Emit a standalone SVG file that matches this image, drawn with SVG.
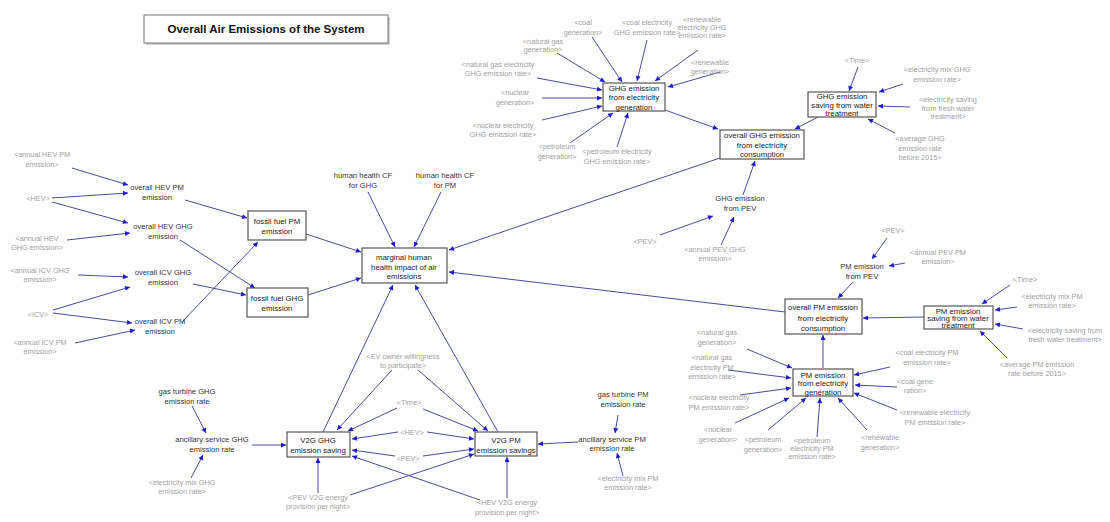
<svg xmlns="http://www.w3.org/2000/svg" width="1110" height="522" viewBox="0 0 1110 522">
<style>
text{font-family:"Liberation Sans",Arial,sans-serif;text-anchor:middle}
.d{fill:#333;font-size:7.6px}
.g{fill:#a0a0a0;font-size:7.3px}
.b{fill:#222;font-size:7.8px}
.box{fill:#fff;stroke:#555;stroke-width:1.2}
.c line{stroke:#4a4aa0;stroke-width:1;marker-end:url(#ah)}
.title{font-weight:bold;font-size:11.5px;fill:#111}
</style>
<defs>
<marker id="ah" viewBox="0 0 10 10" refX="10" refY="5" markerWidth="6" markerHeight="5" orient="auto" markerUnits="userSpaceOnUse">
<path d="M0,0 L10,5 L0,10 z" fill="#1a1ad0"/>
</marker>
</defs>
<rect width="1110" height="522" fill="#fff"/>

<g id="title">
<rect x="146" y="17" width="244" height="28" fill="#ccc"/>
<rect x="144" y="15" width="244" height="28" fill="#fff" stroke="#777" stroke-width="1"/>
<text class="title" x="266" y="33">Overall Air Emissions of the System</text>
</g>

<g class="c" id="connectors">
<!-- GHG from electricity generation -->
<line x1="557" y1="53" x2="605" y2="82"/>
<line x1="592" y1="37" x2="622" y2="82"/>
<line x1="647" y1="40" x2="637" y2="81"/>
<line x1="698" y1="50" x2="655" y2="81"/>
<line x1="720" y1="72" x2="668" y2="87"/>
<line x1="537" y1="78" x2="602" y2="90"/>
<line x1="542" y1="98" x2="602" y2="98"/>
<line x1="542" y1="120" x2="602" y2="106"/>
<line x1="570" y1="143" x2="613" y2="113"/>
<line x1="617" y1="147" x2="628" y2="113"/>
<line x1="665" y1="110" x2="718" y2="129"/>
<!-- GHG water -->
<line x1="858" y1="67" x2="849" y2="91"/>
<line x1="903" y1="84" x2="879" y2="92"/>
<line x1="910" y1="107" x2="878" y2="106"/>
<line x1="895" y1="133" x2="868" y2="119"/>
<line x1="818" y1="117" x2="795" y2="129"/>
<!-- overall GHG -->
<line x1="743" y1="195" x2="755" y2="161"/>
<line x1="720" y1="158" x2="449" y2="250"/>
<!-- GHG from PEV -->
<line x1="660" y1="235" x2="713" y2="216"/>
<line x1="721" y1="245" x2="734" y2="217"/>
<!-- PM from PEV -->
<line x1="887" y1="238" x2="872" y2="259"/>
<line x1="905" y1="263" x2="889" y2="266"/>
<line x1="853" y1="282" x2="838" y2="298"/>
<!-- PM water -->
<line x1="1010" y1="285" x2="982" y2="304"/>
<line x1="1017" y1="307" x2="995" y2="310"/>
<line x1="1023" y1="329" x2="995" y2="324"/>
<line x1="1007" y1="358" x2="980" y2="331"/>
<line x1="924" y1="317" x2="863" y2="318"/>
<!-- overall PM -->
<line x1="785" y1="312" x2="449" y2="272"/>
<line x1="823" y1="368" x2="823" y2="335"/>
<!-- PM gen -->
<line x1="747" y1="349" x2="792" y2="368"/>
<line x1="728" y1="370" x2="791" y2="378"/>
<line x1="740" y1="395" x2="791" y2="388"/>
<line x1="735" y1="423" x2="789" y2="398"/>
<line x1="768" y1="430" x2="806" y2="398"/>
<line x1="817" y1="437" x2="820" y2="398"/>
<line x1="867" y1="430" x2="838" y2="398"/>
<line x1="890" y1="367" x2="854" y2="375"/>
<line x1="897" y1="387" x2="855" y2="385"/>
<line x1="897" y1="410" x2="854" y2="393"/>
<!-- fossil fuel -->
<line x1="185" y1="200" x2="247" y2="218"/>
<line x1="182" y1="322" x2="258" y2="242"/>
<line x1="306" y1="234" x2="361" y2="252"/>
<line x1="180" y1="240" x2="255" y2="288"/>
<line x1="193" y1="284" x2="246" y2="295"/>
<line x1="308" y1="295" x2="361" y2="278"/>
<!-- left variables -->
<line x1="72" y1="168" x2="128" y2="185"/>
<line x1="52" y1="198" x2="128" y2="193"/>
<line x1="52" y1="202" x2="128" y2="223"/>
<line x1="67" y1="240" x2="130" y2="233"/>
<line x1="78" y1="275" x2="128" y2="277"/>
<line x1="53" y1="310" x2="130" y2="287"/>
<line x1="53" y1="313" x2="132" y2="323"/>
<line x1="75" y1="343" x2="135" y2="330"/>
<!-- marginal -->
<line x1="368" y1="192" x2="395" y2="247"/>
<line x1="441" y1="192" x2="414" y2="247"/>
<line x1="323" y1="432" x2="393" y2="285"/>
<line x1="498" y1="432" x2="415" y2="285"/>
<!-- V2G -->
<line x1="392" y1="370" x2="337" y2="430"/>
<line x1="418" y1="370" x2="488" y2="431"/>
<line x1="397" y1="408" x2="348" y2="431"/>
<line x1="423" y1="409" x2="478" y2="431"/>
<line x1="398" y1="432" x2="352" y2="439"/>
<line x1="427" y1="432" x2="474" y2="439"/>
<line x1="395" y1="456" x2="352" y2="450"/>
<line x1="423" y1="456" x2="474" y2="449"/>
<line x1="318" y1="493" x2="318" y2="458"/>
<line x1="350" y1="495" x2="474" y2="454"/>
<line x1="480" y1="500" x2="352" y2="456"/>
<line x1="507" y1="498" x2="507" y2="457"/>
<line x1="252" y1="445" x2="286" y2="445"/>
<line x1="192" y1="406" x2="206" y2="433"/>
<line x1="191" y1="478" x2="203" y2="455"/>
<line x1="578" y1="442" x2="538" y2="444"/>
<line x1="618" y1="415" x2="615" y2="433"/>
<line x1="623" y1="476" x2="617" y2="453"/>
</g>

<g id="ghg-elec-gen"><rect class="box" x="603" y="83" width="62" height="28"/><text class="b" x="634"><tspan x="634" y="90.5">GHG emission</tspan><tspan x="634" y="100">from electricity</tspan><tspan x="634" y="109.5">generation</tspan></text></g>
<g id="ghg-water"><rect class="box" x="808" y="92" width="68" height="25"/><text class="b" x="842"><tspan x="842" y="99">GHG emission</tspan><tspan x="842" y="107.5">saving from water</tspan><tspan x="842" y="115.5">treatment</tspan></text></g>
<g id="overall-ghg"><rect class="box" x="720" y="130" width="84" height="29"/><text class="b" x="762"><tspan x="762" y="138">overall GHG emission</tspan><tspan x="762" y="147.5">from electricity</tspan><tspan x="762" y="157">consumption</tspan></text></g>
<g id="overall-pm"><rect class="box" x="785" y="299" width="77" height="35"/><text class="b" x="823"><tspan x="823" y="310">overall PM emission</tspan><tspan x="823" y="320.5">from electricity</tspan><tspan x="823" y="331">consumption</tspan></text></g>
<g id="pm-water"><rect class="box" x="924" y="306" width="69" height="23"/><text class="b" x="958"><tspan x="958" y="313.5">PM emission</tspan><tspan x="958" y="320.5">saving from water</tspan><tspan x="958" y="327.5">treatment</tspan></text></g>
<g id="pm-elec-gen"><rect class="box" x="793" y="369" width="60" height="27"/><text class="b" x="823"><tspan x="823" y="377.5">PM emission</tspan><tspan x="823" y="386">from electricity</tspan><tspan x="823" y="394.5">generation</tspan></text></g>
<g id="marginal"><rect class="box" x="362" y="248" width="85" height="35"/><text class="b" x="404"><tspan x="404" y="259.5">marginal human</tspan><tspan x="404" y="269.5">health impact of air</tspan><tspan x="404" y="279">emissions</tspan></text></g>
<g id="fossil-pm"><rect class="box" x="248" y="211" width="58" height="29"/><text class="b" x="277"><tspan x="277" y="223.5">fossil fuel PM</tspan><tspan x="277" y="233.5">emission</tspan></text></g>
<g id="fossil-ghg"><rect class="box" x="247" y="288" width="61" height="29"/><text class="b" x="277"><tspan x="277" y="300.5">fossil fuel GHG</tspan><tspan x="277" y="310.5">emission</tspan></text></g>
<g id="v2g-ghg"><rect class="box" x="287" y="432" width="63" height="25"/><text class="b" x="318"><tspan x="318" y="442.5">V2G GHG</tspan><tspan x="318" y="453">emission saving</tspan></text></g>
<g id="v2g-pm"><rect class="box" x="475" y="432" width="62" height="24"/><text class="b" x="506"><tspan x="506" y="442.5">V2G PM</tspan><tspan x="506" y="453">emission savings</tspan></text></g>

<g id="ghg-pev"><text class="d" x="740"><tspan x="740" y="201">GHG emission</tspan><tspan x="740" y="211">from PEV</tspan></text></g>
<g id="pm-pev"><text class="d" x="862"><tspan x="862" y="269">PM emission</tspan><tspan x="862" y="279">from PEV</tspan></text></g>
<g id="hev-pm"><text class="d" x="157"><tspan x="157" y="190">overall HEV PM</tspan><tspan x="157" y="200">emission</tspan></text></g>
<g id="hev-ghg"><text class="d" x="163"><tspan x="163" y="229">overall HEV GHG</tspan><tspan x="163" y="239">emission</tspan></text></g>
<g id="icv-ghg"><text class="d" x="163"><tspan x="163" y="275">overall ICV GHG</tspan><tspan x="163" y="285">emission</tspan></text></g>
<g id="icv-pm"><text class="d" x="160"><tspan x="160" y="324">overall ICV PM</tspan><tspan x="160" y="333.5">emission</tspan></text></g>
<g id="cf-ghg"><text class="d" x="363"><tspan x="363" y="177.5">human health CF</tspan><tspan x="363" y="188">for GHG</tspan></text></g>
<g id="cf-pm"><text class="d" x="445"><tspan x="445" y="177.5">human health CF</tspan><tspan x="445" y="188">for PM</tspan></text></g>
<g id="gt-ghg"><text class="d" x="187"><tspan x="187" y="394">gas turbine GHG</tspan><tspan x="187" y="404">emission rate</tspan></text></g>
<g id="anc-ghg"><text class="d" x="212"><tspan x="212" y="442">ancillary service GHG</tspan><tspan x="212" y="451.5">emission rate</tspan></text></g>
<g id="gt-pm"><text class="d" x="623"><tspan x="623" y="397">gas turbine PM</tspan><tspan x="623" y="406.5">emission rate</tspan></text></g>
<g id="anc-pm"><text class="d" x="612"><tspan x="612" y="441.5">ancillary service PM</tspan><tspan x="612" y="451">emission rate</tspan></text></g>

<g id="shadow-vars">
<text class="g" x="42"><tspan x="42" y="157">&lt;annual HEV PM</tspan><tspan x="42" y="166.5">emission&gt;</tspan></text>
<text class="g" x="38" y="200.5">&lt;HEV&gt;</text>
<text class="g" x="37"><tspan x="37" y="241">&lt;annual HEV</tspan><tspan x="37" y="250">GHG emission&gt;</tspan></text>
<text class="g" x="40"><tspan x="40" y="273">&lt;annual ICV GHG</tspan><tspan x="40" y="282">emission&gt;</tspan></text>
<text class="g" x="38" y="316.5">&lt;ICV&gt;</text>
<text class="g" x="40"><tspan x="40" y="344.5">&lt;annual ICV PM</tspan><tspan x="40" y="353.5">emission&gt;</tspan></text>

<text class="g" x="583"><tspan x="583" y="25">&lt;coal</tspan><tspan x="583" y="34.5">generation&gt;</tspan></text>
<text class="g" x="647"><tspan x="647" y="25">&lt;coal electricity</tspan><tspan x="647" y="34.5">GHG emission rate&gt;</tspan></text>
<text class="g" x="702"><tspan x="702" y="22">&lt;renewable</tspan><tspan x="702" y="30">electricity GHG</tspan><tspan x="702" y="38">emission rate&gt;</tspan></text>
<text class="g" x="543"><tspan x="543" y="44">&lt;natural gas</tspan><tspan x="543" y="52">generation&gt;</tspan></text>
<text class="g" x="710"><tspan x="710" y="65">&lt;renewable</tspan><tspan x="710" y="74">generation&gt;</tspan></text>
<text class="g" x="498"><tspan x="498" y="67">&lt;natural gas electricity</tspan><tspan x="498" y="76">GHG emission rate&gt;</tspan></text>
<text class="g" x="515"><tspan x="515" y="95">&lt;nuclear</tspan><tspan x="515" y="104.5">generation&gt;</tspan></text>
<text class="g" x="503"><tspan x="503" y="128">&lt;nuclear electricity</tspan><tspan x="503" y="136.5">GHG emission rate&gt;</tspan></text>
<text class="g" x="557"><tspan x="557" y="149">&lt;petroleum</tspan><tspan x="557" y="158.5">generation&gt;</tspan></text>
<text class="g" x="617"><tspan x="617" y="154">&lt;petroleum electricity</tspan><tspan x="617" y="163.5">GHG emission rate&gt;</tspan></text>

<text class="g" x="857" y="62.5">&lt;Time&gt;</text>
<text class="g" x="937"><tspan x="937" y="72">&lt;electricity mix GHG</tspan><tspan x="937" y="82">emission rate&gt;</tspan></text>
<text class="g" x="948"><tspan x="948" y="102">&lt;electricity saving</tspan><tspan x="948" y="110.5">from fresh water</tspan><tspan x="948" y="119">treatment&gt;</tspan></text>
<text class="g" x="920"><tspan x="920" y="141">&lt;average GHG</tspan><tspan x="920" y="150.5">emission rate</tspan><tspan x="920" y="160">before 2015&gt;</tspan></text>

<text class="g" x="645" y="243.5">&lt;PEV&gt;</text>
<text class="g" x="715"><tspan x="715" y="252">&lt;annual PEV GHG</tspan><tspan x="715" y="261">emission&gt;</tspan></text>
<text class="g" x="893" y="233">&lt;PEV&gt;</text>
<text class="g" x="938"><tspan x="938" y="255">&lt;annual PEV PM</tspan><tspan x="938" y="264">emission&gt;</tspan></text>

<text class="g" x="1025" y="281.5">&lt;Time&gt;</text>
<text class="g" x="1052"><tspan x="1052" y="299">&lt;electricity mix PM</tspan><tspan x="1052" y="308">emission rate&gt;</tspan></text>
<text class="g" x="1065"><tspan x="1065" y="333">&lt;electricity saving from</tspan><tspan x="1065" y="342">fresh water treatment&gt;</tspan></text>
<text class="g" x="1037"><tspan x="1037" y="367">&lt;average PM emission</tspan><tspan x="1037" y="376">rate before 2015&gt;</tspan></text>

<text class="g" x="717"><tspan x="717" y="335">&lt;natural gas</tspan><tspan x="717" y="345">generation&gt;</tspan></text>
<text class="g" x="712"><tspan x="712" y="360">&lt;natural gas</tspan><tspan x="712" y="369.5">electricity PM</tspan><tspan x="712" y="379">emission rate&gt;</tspan></text>
<text class="g" x="719"><tspan x="719" y="400">&lt;nuclear electricity</tspan><tspan x="719" y="410">PM emission rate&gt;</tspan></text>
<text class="g" x="927"><tspan x="927" y="355">&lt;coal electricity PM</tspan><tspan x="927" y="365">emission rate&gt;</tspan></text>
<text class="g" x="915"><tspan x="915" y="384">&lt;coal gene</tspan><tspan x="915" y="392.5">ration&gt;</tspan></text>
<text class="g" x="935"><tspan x="935" y="415">&lt;renewable electricity</tspan><tspan x="935" y="425">PM emission rate&gt;</tspan></text>
<text class="g" x="718"><tspan x="718" y="432">&lt;nuclear</tspan><tspan x="718" y="442">generation&gt;</tspan></text>
<text class="g" x="763"><tspan x="763" y="442">&lt;petroleum</tspan><tspan x="763" y="452">generation&gt;</tspan></text>
<text class="g" x="812"><tspan x="812" y="443">&lt;petroleum</tspan><tspan x="812" y="450.5">electricity PM</tspan><tspan x="812" y="458.5">emission rate&gt;</tspan></text>
<text class="g" x="880"><tspan x="880" y="440">&lt;renewable</tspan><tspan x="880" y="450">generation&gt;</tspan></text>

<text class="g" x="403"><tspan x="403" y="358.5">&lt;EV owner willingness</tspan><tspan x="403" y="367.5">to participate&gt;</tspan></text>
<text class="g" x="409" y="404.5">&lt;Time&gt;</text>
<text class="g" x="412" y="434.5">&lt;HEV&gt;</text>
<text class="g" x="408" y="460.5">&lt;PEV&gt;</text>
<text class="g" x="318"><tspan x="318" y="500">&lt;PEV V2G energy</tspan><tspan x="318" y="509">provision per night&gt;</tspan></text>
<text class="g" x="507"><tspan x="507" y="505">&lt;HEV V2G energy</tspan><tspan x="507" y="515">provision per night&gt;</tspan></text>
<text class="g" x="182"><tspan x="182" y="485">&lt;electricity mix GHG</tspan><tspan x="182" y="494">emission rate&gt;</tspan></text>
<text class="g" x="628"><tspan x="628" y="481">&lt;electricity mix PM</tspan><tspan x="628" y="490">emission rate&gt;</tspan></text>
</g>
</svg>
